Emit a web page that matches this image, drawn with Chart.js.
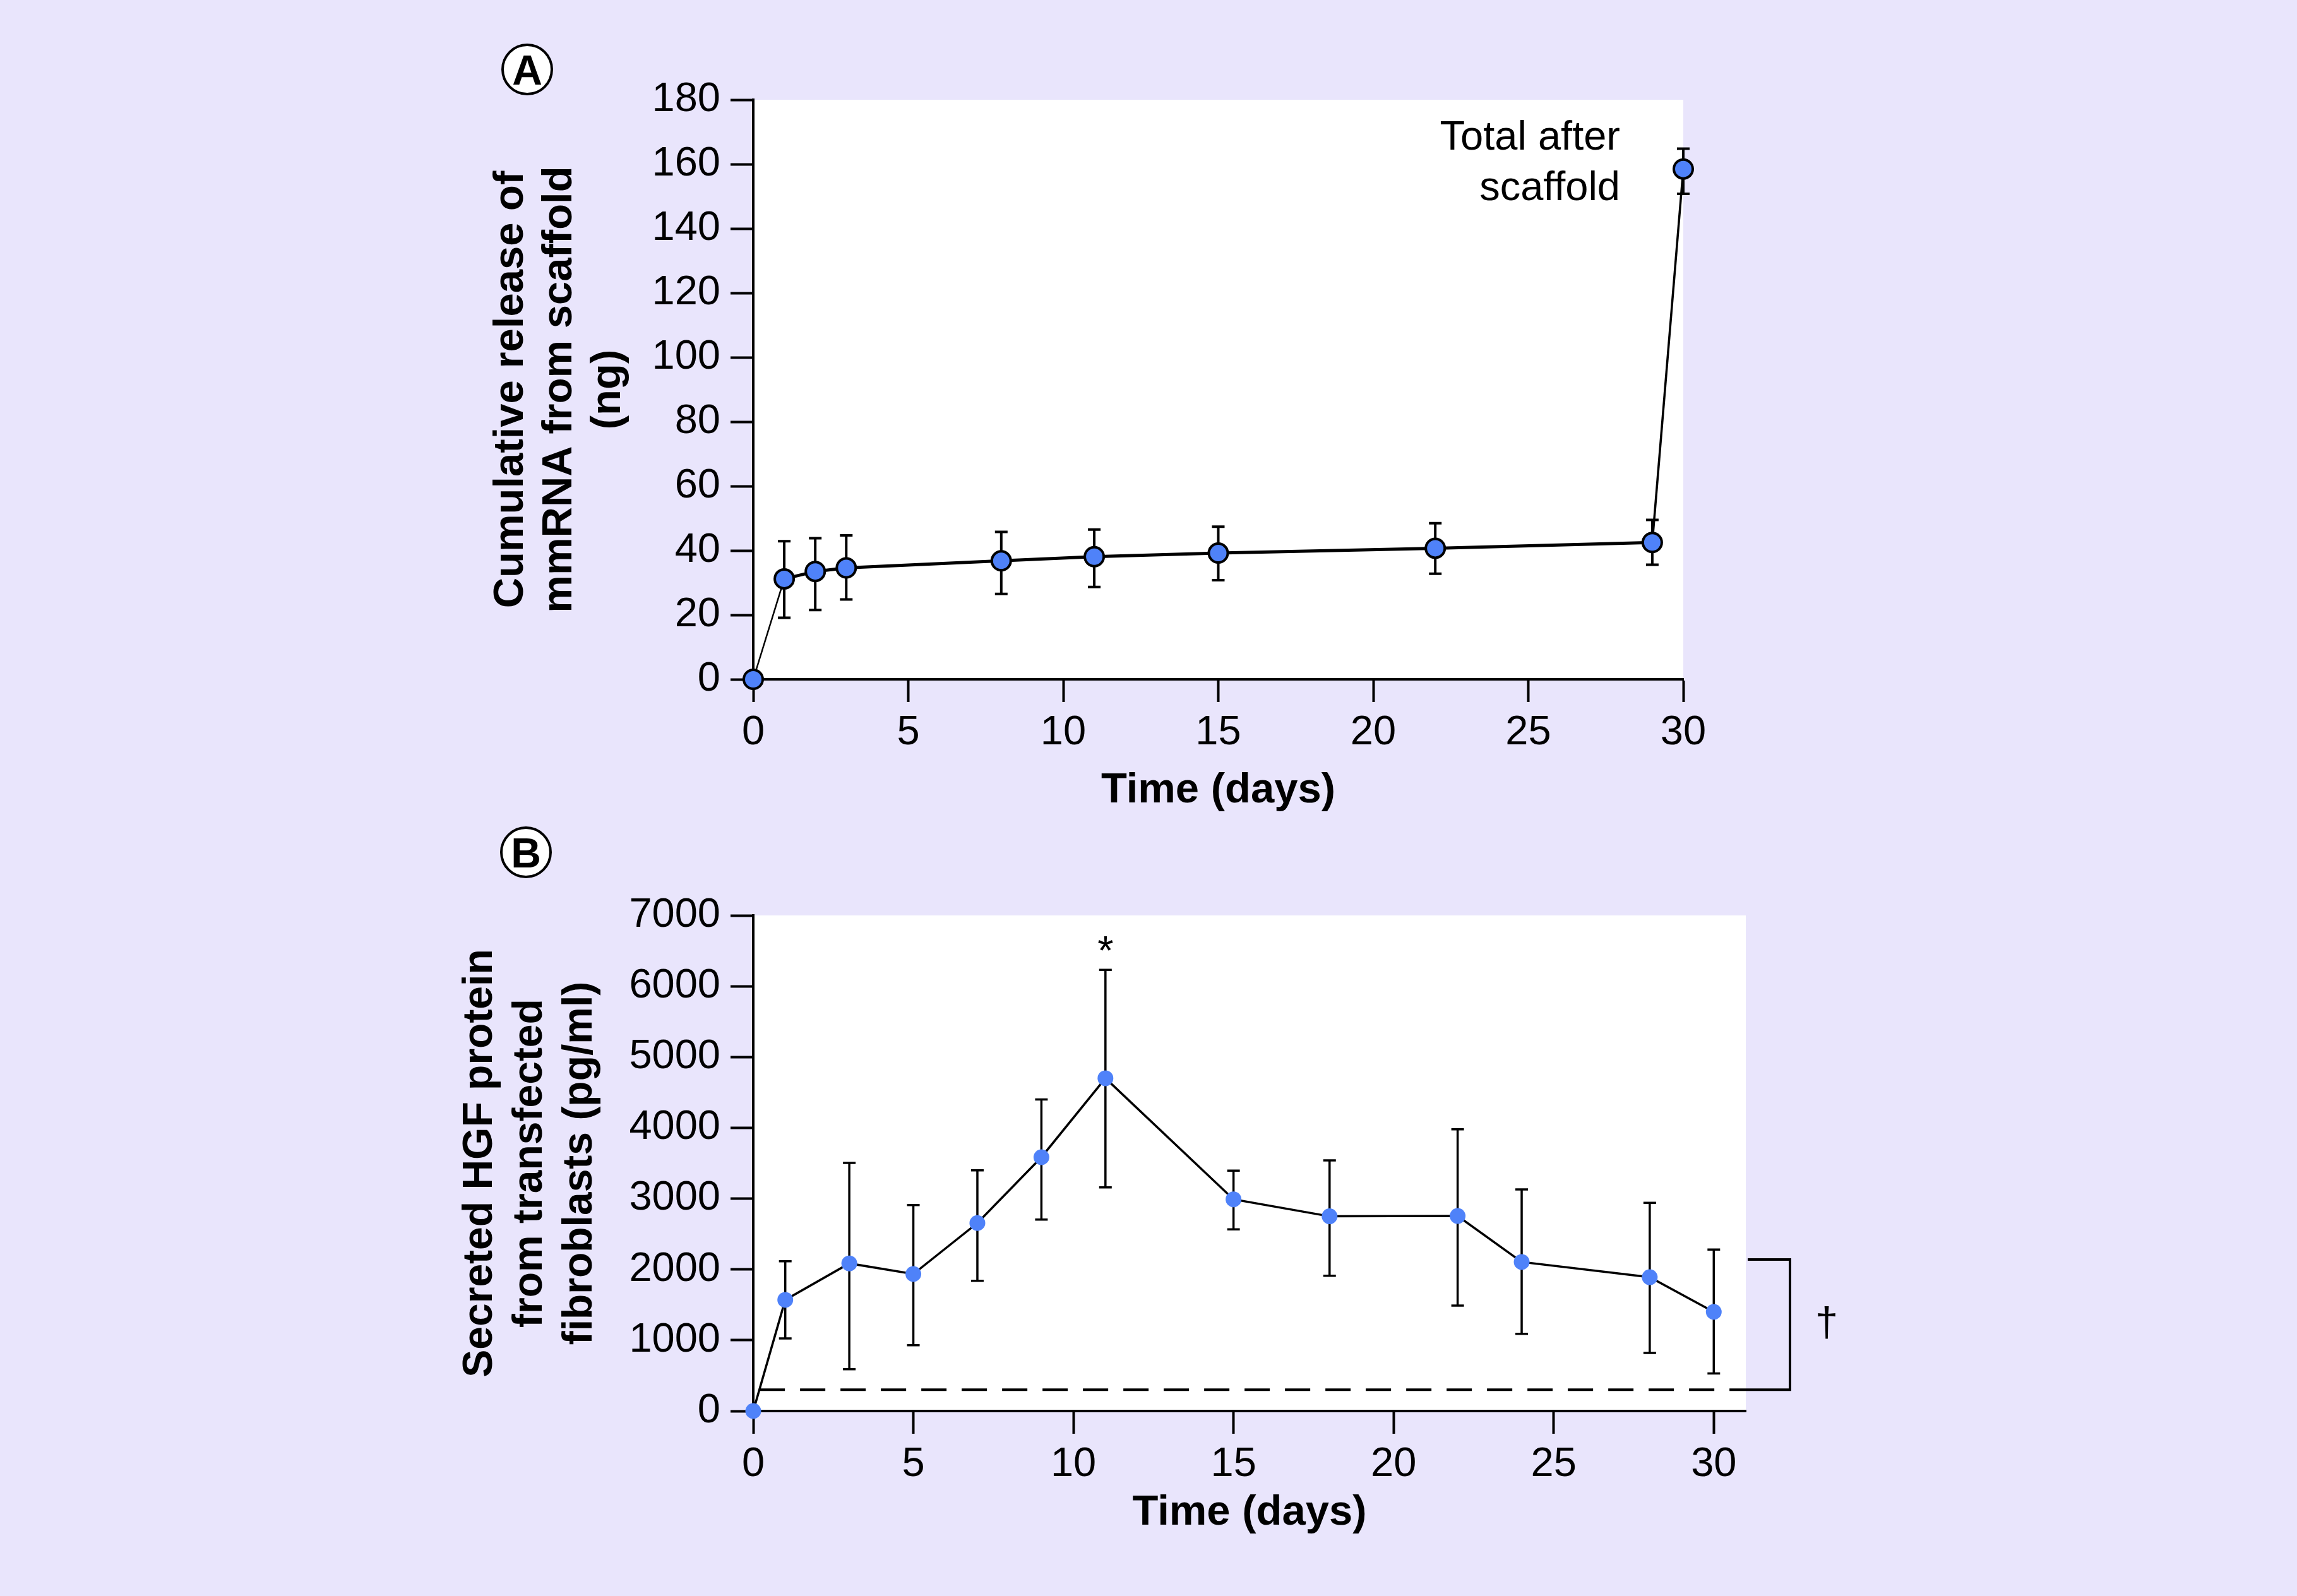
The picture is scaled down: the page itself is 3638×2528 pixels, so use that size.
<!DOCTYPE html>
<html>
<head>
<meta charset="utf-8">
<script src="https://cdn.jsdelivr.net/npm/chart.js@4.4.1/dist/chart.umd.min.js"></script>
<style>
  html, body { margin: 0; padding: 0; background: #e9e5fc; }
  body { width: 3638px; height: 2528px; position: relative; overflow: hidden; }
  canvas { position: absolute; left: 0; }
</style>
</head>
<body>
<canvas id="chartA" width="3638" height="1300" style="top:0px"></canvas>
<canvas id="chartB" width="3638" height="1228" style="top:1300px"></canvas>
<script>
// panel A - cumulative mmRNA release (ng)
const releaseDays = [0, 1, 2, 3, 8, 11, 15, 22, 29, 30];
const releaseNg = [0, 31.2, 33.5, 34.6, 36.8, 38.1, 39.2, 40.7, 42.5, 158.5];
const releaseUpper = [null, 42.9, 43.8, 44.7, 45.8, 46.5, 47.4, 48.5, 49.5, 164.8];
const releaseLower = [null, 19.1, 21.5, 24.8, 26.5, 28.7, 30.8, 32.8, 35.6, 150.8];
const releaseYTicks = [0, 20, 40, 60, 80, 100, 120, 140, 160, 180];

// panel B - secreted HGF (pg/ml)
const hgfDays = [0, 1, 3, 5, 7, 9, 11, 15, 18, 22, 24, 28, 30];
const hgfValues = [0, 1570, 2085, 1935, 2655, 3585, 4700, 2990, 2750, 2755, 2105, 1890, 1400];
const hgfUpper = [null, 2115, 3505, 2910, 3400, 4400, 6230, 3395, 3540, 3980, 3130, 2940, 2280];
const hgfLower = [null, 1025, 590, 930, 1840, 2705, 3160, 2565, 1910, 1490, 1090, 820, 530];
const hgfYTicks = [0, 1000, 2000, 3000, 4000, 5000, 6000, 7000];
const hgfBaseline = 300;      // dashed control level
const hgfBracketTop = 2140;   // top of the dagger bracket

const dayTicks = [0, 5, 10, 15, 20, 25, 30];

const FONT = "'Liberation Sans', Arial, Helvetica, sans-serif";
const tickFont = { family: FONT, size: 65 };
const blue = '#4f82f9';

function makeXScale(max, height) {
    return {
        type: 'linear', min: 0, max: max,
        afterBuildTicks: s => { s.ticks = dayTicks.map(v => ({ value: v })); },
        afterFit: s => { s.height = height; },
        grid: { drawOnChartArea: false, tickLength: 36, tickWidth: 4, tickColor: '#000' },
        border: { color: '#000', width: 4 },
        ticks: { color: '#000', font: tickFont, padding: 10, maxRotation: 0, autoSkip: false,
                 callback: v => String(v) },
        title: { display: true, text: 'Time (days)', color: '#000', padding: 0,
                 font: { family: FONT, size: 67, weight: 'bold', lineHeight: 1.15 } }
    };
}

function makeYScale(max, tickValues, width, titleLines, titleSize, lh) {
    return {
        type: 'linear', min: 0, max: max,
        afterBuildTicks: s => { s.ticks = tickValues.map(v => ({ value: v })); },
        afterFit: s => { s.width = width; },
        grid: { drawOnChartArea: false, tickLength: 36, tickWidth: 4, tickColor: '#000' },
        border: { color: '#000', width: 4 },
        ticks: { color: '#000', font: tickFont, padding: 16, autoSkip: false,
                 callback: v => String(v) },
        title: { display: true, text: titleLines, color: '#000', padding: 0,
                 font: { family: FONT, size: titleSize, weight: 'bold', lineHeight: lh } }
    };
}

const whiteArea = {
    id: 'whiteArea',
    beforeDraw(chart) {
        const a = chart.chartArea, ctx = chart.ctx;
        ctx.save();
        ctx.fillStyle = '#ffffff';
        ctx.fillRect(a.left, a.top, a.right - a.left, a.bottom - a.top);
        ctx.restore();
    }
};

function errorBars(lower, upper, lineW, capHalf) {
    return {
        id: 'errorBars',
        beforeDatasetsDraw(chart) {
            const ctx = chart.ctx, xs = chart.scales.x, ys = chart.scales.y;
            const pts = chart.data.datasets[0].data;
            ctx.save();
            ctx.strokeStyle = '#000';
            ctx.lineWidth = lineW;
            pts.forEach((p, i) => {
                if (upper[i] == null) return;
                const x = xs.getPixelForValue(p.x);
                const yt = ys.getPixelForValue(upper[i]);
                const yb = ys.getPixelForValue(lower[i]);
                ctx.beginPath();
                ctx.moveTo(x, yt); ctx.lineTo(x, yb);
                ctx.moveTo(x - capHalf, yt); ctx.lineTo(x + capHalf, yt);
                ctx.moveTo(x - capHalf, yb); ctx.lineTo(x + capHalf, yb);
                ctx.stroke();
            });
            ctx.restore();
        }
    };
}

function panelLabel(ctx, letter, cx, cy) {
    ctx.save();
    ctx.beginPath();
    ctx.arc(cx, cy, 39, 0, Math.PI * 2);
    ctx.fillStyle = '#fff';
    ctx.fill();
    ctx.lineWidth = 4;
    ctx.strokeStyle = '#000';
    ctx.stroke();
    ctx.fillStyle = '#000';
    ctx.font = 'bold 66px ' + FONT;
    ctx.textAlign = 'center';
    ctx.textBaseline = 'alphabetic';
    ctx.fillText(letter, cx, cy + 24);
    ctx.restore();
}

const notesA = {
    id: 'notesA',
    afterDraw(chart) {
        const ctx = chart.ctx;
        panelLabel(ctx, 'A', 835, 110);
        ctx.save();
        ctx.fillStyle = '#000';
        ctx.font = '65px ' + FONT;
        ctx.textAlign = 'right';
        ctx.fillText('Total after', 2566, 237);
        ctx.fillText('scaffold', 2566, 317);
        ctx.restore();
    }
};

const notesB = {
    id: 'notesB',
    afterDraw(chart) {
        const ctx = chart.ctx, xs = chart.scales.x, ys = chart.scales.y, a = chart.chartArea;
        panelLabel(ctx, 'B', 833, 50);
        ctx.save();
        ctx.fillStyle = '#000';
        ctx.font = '65px ' + FONT;
        ctx.textAlign = 'center';
        // asterisk over the day 11 peak
        ctx.fillText('*', xs.getPixelForValue(11), ys.getPixelForValue(hgfUpper[6]) - 8);
        // bracket
        const yTop = ys.getPixelForValue(hgfBracketTop);
        const yBot = ys.getPixelForValue(hgfBaseline);
        const bx = a.right + 70;
        ctx.strokeStyle = '#000';
        ctx.lineWidth = 4;
        ctx.beginPath();
        ctx.moveTo(a.right + 3, yTop);
        ctx.lineTo(bx, yTop);
        ctx.lineTo(bx, yBot);
        ctx.lineTo(a.right, yBot);
        ctx.stroke();
        ctx.textBaseline = 'middle';
        ctx.fillText('\u2020', bx + 58, (yTop + yBot) / 2);
        ctx.restore();
    }
};

new Chart(document.getElementById('chartA'), {
    type: 'line',
    data: {
        datasets: [{
            data: releaseDays.map((d, i) => ({ x: d, y: releaseNg[i] })),
            borderColor: '#000',
            borderWidth: 5,
            segment: {
                borderWidth: c => c.p0DataIndex === 0 ? 2.5 : (c.p1DataIndex === releaseDays.length - 1 ? 3.5 : 5)
            },
            pointRadius: 15,
            pointBorderWidth: 4,
            pointBackgroundColor: blue,
            pointBorderColor: '#000',
            tension: 0,
            clip: false
        }]
    },
    options: {
        responsive: false,
        animation: false,
        devicePixelRatio: 1,
        events: [],
        layout: { padding: { left: 771, top: 158, right: 972, bottom: 9 } },
        plugins: { legend: { display: false }, tooltip: { enabled: false } },
        scales: {
            x: makeXScale(30, 215),
            y: makeYScale(180, releaseYTicks, 422,
                ['Cumulative release of', 'mmRNA from scaffold', '(ng)'], 67, 1.15)
        }
    },
    plugins: [whiteArea, errorBars(releaseLower, releaseUpper, 4, 10), notesA]
});

new Chart(document.getElementById('chartB'), {
    type: 'line',
    data: {
        datasets: [{
            data: hgfDays.map((d, i) => ({ x: d, y: hgfValues[i] })),
            borderColor: '#000',
            borderWidth: 3.5,
            pointRadius: 12.5,
            pointBorderWidth: 0,
            pointBackgroundColor: blue,
            tension: 0,
            clip: false
        }, {
            data: [{ x: 0.2, y: hgfBaseline }, { x: 31, y: hgfBaseline }],
            borderColor: '#000',
            borderWidth: 4,
            borderDash: [40, 24],
            pointRadius: 0,
            tension: 0
        }]
    },
    options: {
        responsive: false,
        animation: false,
        devicePixelRatio: 1,
        events: [],
        layout: { padding: { left: 721, top: 150, right: 873, bottom: 93 } },
        plugins: { legend: { display: false }, tooltip: { enabled: false } },
        scales: {
            x: makeXScale(31, 200),
            y: makeYScale(7000, hgfYTicks, 472,
                ['Secreted HGF protein', 'from transfected', 'fibroblasts (pg/ml)'], 66, 1.2)
        }
    },
    plugins: [whiteArea, errorBars(hgfLower, hgfUpper, 3.5, 10), notesB]
});
</script>
</body>
</html>
